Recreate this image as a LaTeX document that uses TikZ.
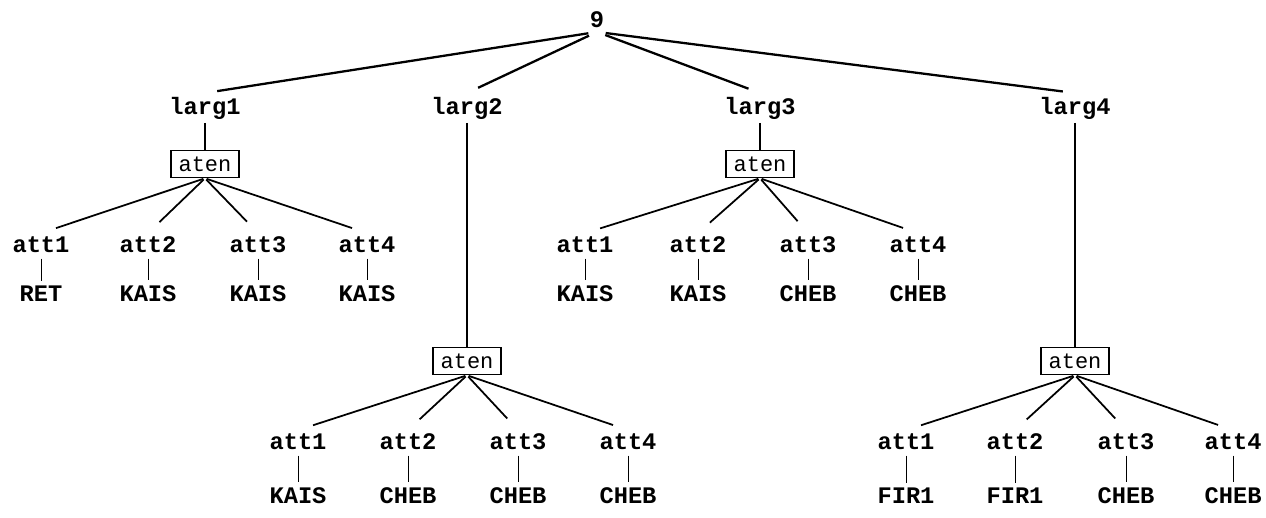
\documentclass[tikz,border=0pt]{standalone}
\usepackage{fontspec}
\setmonofont{Liberation Mono}
\usepackage{tikz}

\begin{document}
\begin{tikzpicture}[x=0.02cm,y=-0.02cm]
	\tikzstyle{every node}=[font=\ttfamily\bfseries\fontsize{13.5}{13.5}\selectfont, inner sep=2pt];
	\tikzstyle{aten}=[draw, line width=0.9pt, font=\ttfamily\fontsize{12.5}{12.5}\selectfont, minimum width=1.36cm, minimum height=0.54cm, inner sep=1pt];
	\tikzstyle{leaf}=[font=\ttfamily\bfseries\fontsize{13.5}{13.5}\selectfont];
	\tikzstyle{top}=[line width=1.3pt, shorten <=5pt, shorten >=7pt];
	\tikzstyle{fan}=[line width=1pt, shorten <=1pt, shorten >=9pt];
	\tikzstyle{stem}=[line width=0.8pt];
	\tikzstyle{tick}=[line width=0.5pt, shorten <=1pt, shorten >=1pt];
	\useasboundingbox (0,0) rectangle (1266,517);

	\node (root) at (597,20) {9};

	\node (larg1) at (205,108) {larg1};
	\node (larg2) at (467,108) {larg2};
	\node (larg3) at (760,108) {larg3};
	\node (larg4) at (1075,108) {larg4};

	\node[aten] (aten1) at (205,164) {aten};
	\node[aten] (aten2) at (467,361) {aten};
	\node[aten] (aten3) at (760,164) {aten};
	\node[aten] (aten4) at (1075,361) {aten};

	\foreach \g in {1,2,3,4} {
		\draw[top] (root.south) -- (larg\g.north);
		\draw[stem] (larg\g.south) -- (aten\g.north);
	}

	% attributes under larg1
	\foreach \x/\n/\leaf in {41/1/RET,148/2/KAIS,258/3/KAIS,367/4/KAIS} {
		\node (a1\n) at (\x,245) {att\n};
		\node[leaf] (l1\n) at (\x,294) {\leaf};
		\draw[fan] (aten1.south) -- (a1\n.north);
		\draw[tick] (a1\n) -- (l1\n);
	}
	% attributes under larg2
	\foreach \x/\n/\leaf in {298/1/KAIS,408/2/CHEB,518/3/CHEB,628/4/CHEB} {
		\node (a2\n) at (\x,442) {att\n};
		\node[leaf] (l2\n) at (\x,496) {\leaf};
		\draw[fan] (aten2.south) -- (a2\n.north);
		\draw[tick] (a2\n) -- (l2\n);
	}
	% attributes under larg3
	\foreach \x/\n/\leaf in {585/1/KAIS,698/2/KAIS,808/3/CHEB,918/4/CHEB} {
		\node (a3\n) at (\x,245) {att\n};
		\node[leaf] (l3\n) at (\x,294) {\leaf};
		\draw[fan] (aten3.south) -- (a3\n.north);
		\draw[tick] (a3\n) -- (l3\n);
	}
	% attributes under larg4
	\foreach \x/\n/\leaf in {906/1/FIR1,1015/2/FIR1,1126/3/CHEB,1233/4/CHEB} {
		\node (a4\n) at (\x,442) {att\n};
		\node[leaf] (l4\n) at (\x,496) {\leaf};
		\draw[fan] (aten4.south) -- (a4\n.north);
		\draw[tick] (a4\n) -- (l4\n);
	}
\end{tikzpicture}
\end{document}
